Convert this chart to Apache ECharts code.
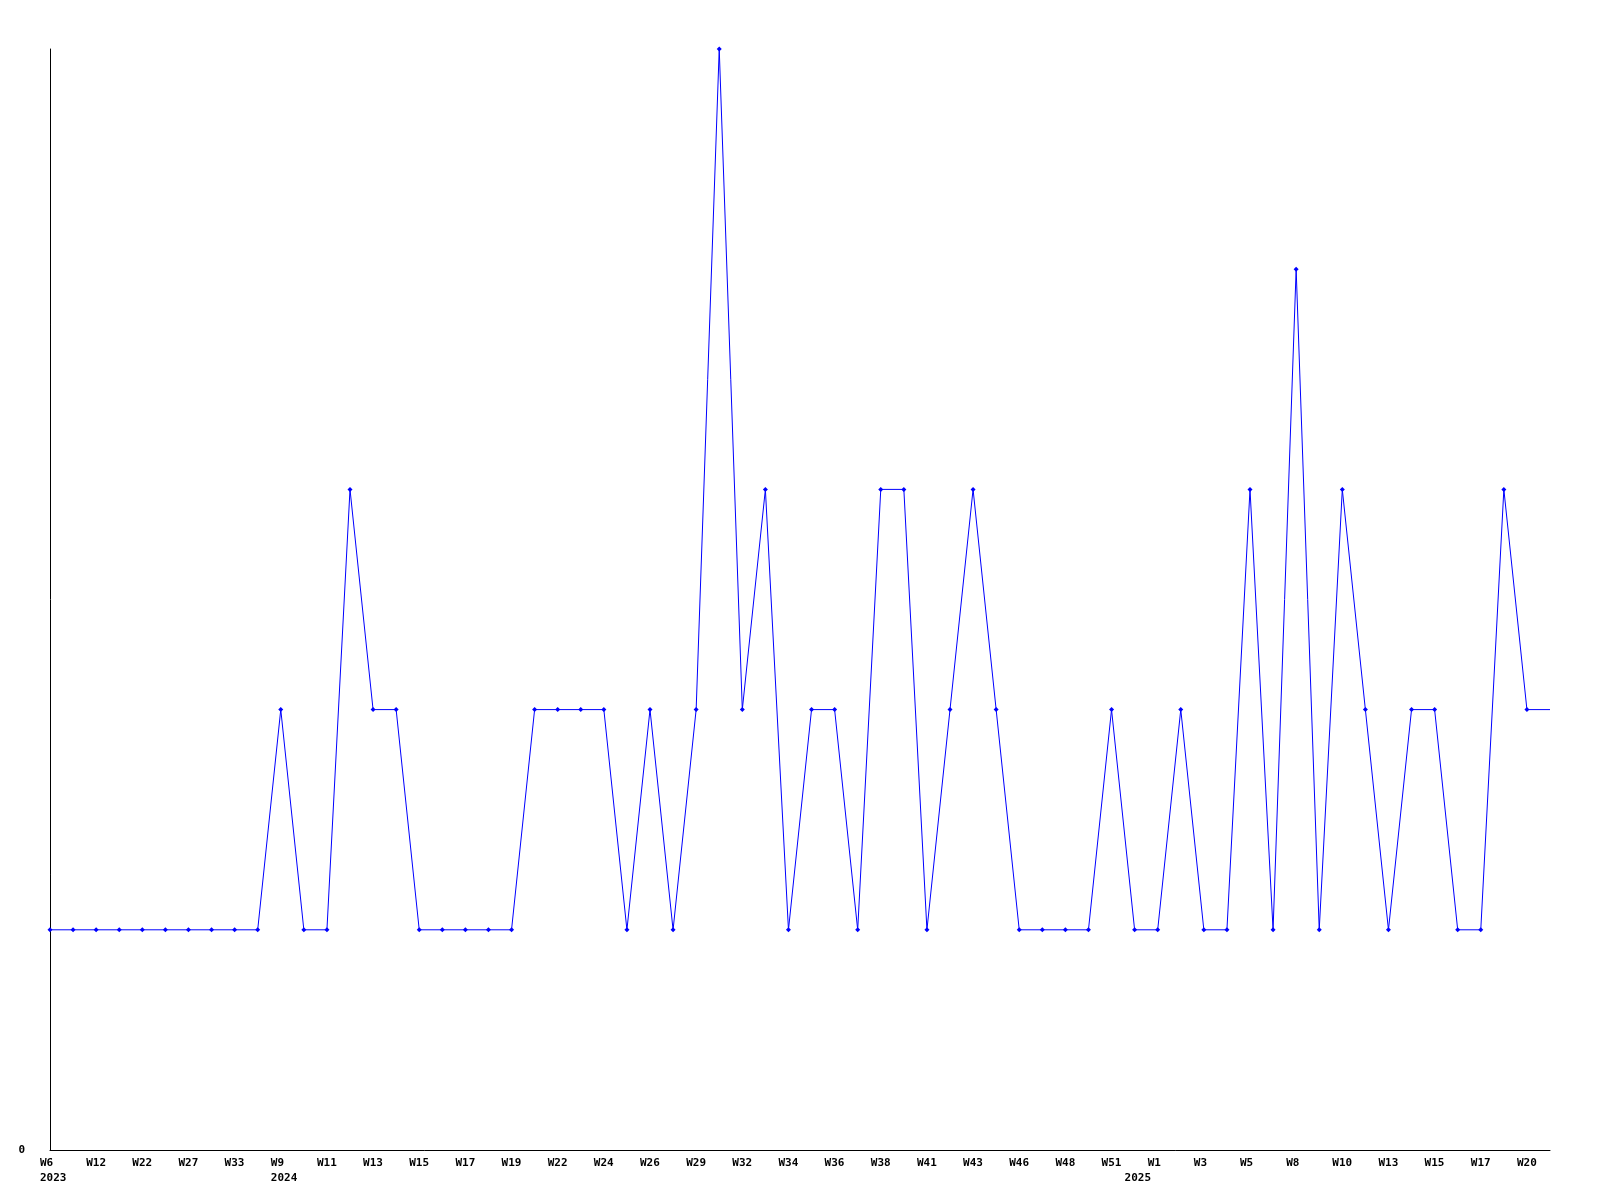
<!DOCTYPE html>
<html>
<head>
<meta charset="utf-8">
<script src="https://cdn.jsdelivr.net/npm/echarts@6/dist/echarts.min.js"></script>
<style>
html,body{margin:0;padding:0;background:#fff;}
#chart{width:1600px;height:1200px;}
</style>
</head>
<body>
<div id="chart"></div>
<script>
const weeks = ["W6","W9","W12","W17","W22","W25","W27","W30","W33","W45",
  "W9","W10","W11","W12","W13","W14","W15","W16","W17","W18",
  "W19","W20","W22","W23","W24","W25","W26","W27","W29","W30",
  "W32","W33","W34","W35","W36","W37","W38","W39","W41","W42",
  "W43","W44","W46","W47","W48","W49","W51","W52","W1","W2",
  "W3","W4","W5","W6","W8","W9","W10","W11","W13","W14",
  "W15","W16","W17","W18","W20","W21"];
const years = [2023,2023,2023,2023,2023,2023,2023,2023,2023,2023,
  2024,2024,2024,2024,2024,2024,2024,2024,2024,2024,
  2024,2024,2024,2024,2024,2024,2024,2024,2024,2024,
  2024,2024,2024,2024,2024,2024,2024,2024,2024,2024,
  2024,2024,2024,2024,2024,2024,2024,2025,2025,2025,
  2025,2025,2025,2025,2025,2025,2025,2025,2025,2025,
  2025,2025,2025,2025,2025,2025];
const values = [1,1,1,1,1,1,1,1,1,1,
  2,1,1,3,2,2,1,1,1,1,
  1,2,2,2,2,1,2,1,2,5,
  2,3,1,2,2,1,3,3,1,2,
  3,2,1,1,1,1,2,1,1,2,
  1,1,3,1,4,1,3,2,1,2,
  2,1,1,3,2,2];

const chart = echarts.init(document.getElementById('chart'));
const seriesData = values.map((v, i) => i === values.length - 1 ? {value: v, symbol: 'none'} : v);
chart.setOption({
  animation: false,
  backgroundColor: '#ffffff',
  grid: {left: 50, right: 50, top: 49, bottom: 50, containLabel: false},
  xAxis: {
    type: 'category',
    data: weeks,
    boundaryGap: false,
    axisLine: {show: true, lineStyle: {color: '#000', width: 1}},
    axisTick: {show: false},
    splitLine: {show: false},
    axisLabel: {
      interval: 0,
      margin: 6,
      color: '#000',
      fontFamily: 'DejaVu Sans Mono',
      fontWeight: 'bold',
      fontSize: 11,
      lineHeight: 15,
      align: 'left',
      padding: [0, 0, 0, -10],
      formatter: function (val, idx) {
        const wk = idx % 2 === 0 ? val : '';
        if (idx === 0 || years[idx] !== years[idx - 1]) {
          return wk + '\n' + years[idx];
        }
        return wk;
      }
    }
  },
  yAxis: {
    type: 'value',
    min: 0,
    max: 5,
    interval: 5,
    axisLine: {show: true, lineStyle: {color: '#000', width: 1}},
    axisTick: {show: false},
    splitLine: {show: false},
    axisLabel: {
      margin: 25,
      color: '#000',
      fontFamily: 'DejaVu Sans Mono',
      fontWeight: 'bold',
      fontSize: 11,
      formatter: function (v) { return v === 0 ? '0' : ''; }
    }
  },
  series: [{
    type: 'line',
    data: seriesData,
    symbol: 'diamond',
    symbolSize: 5,
    showAllSymbol: true,
    lineStyle: {color: '#0000ff', width: 1},
    itemStyle: {color: '#0000ff'},
    clip: false
  }]
});
</script>
</body>
</html>
